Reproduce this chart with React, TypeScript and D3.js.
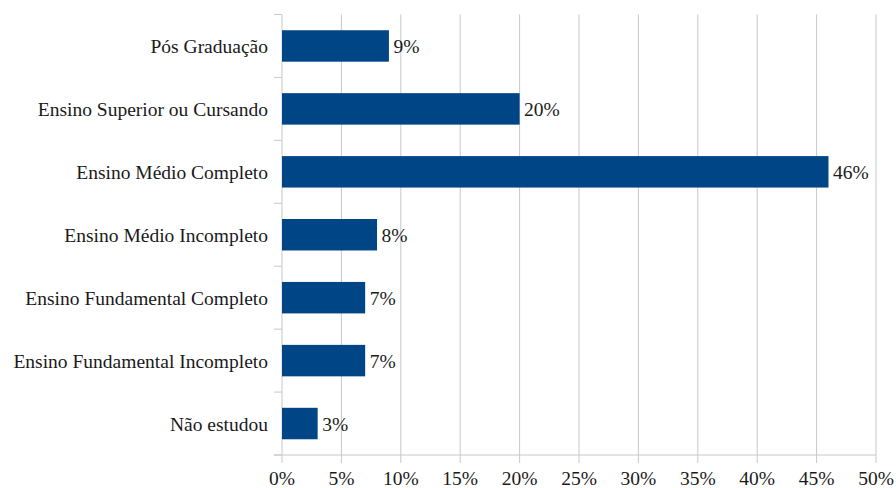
import React, { useEffect, useRef } from 'react';
import * as d3 from 'd3';

const categories = [
  'Pós Graduação',
  'Ensino Superior ou Cursando',
  'Ensino Médio Completo',
  'Ensino Médio Incompleto',
  'Ensino Fundamental Completo',
  'Ensino Fundamental Incompleto',
  'Não estudou',
];
const values = [9, 20, 46, 8, 7, 7, 3];
const xTicks = [0, 5, 10, 15, 20, 25, 30, 35, 40, 45, 50];

const App = () => {
  const svgRef = useRef<SVGSVGElement>(null);
  const width = 896;
  const height = 488;
  const left = 282;
  const right = 876;
  const top = 14.5;
  const bottom = 455;

  useEffect(() => {
    const svg = d3.select(svgRef.current);
    svg.selectAll('*').remove();

    const x = d3.scaleLinear().domain([0, 50]).range([left, right]);
    const y = d3.scaleBand().domain(categories).range([top, bottom]).paddingInner(0.5).paddingOuter(0.25);
    const font = 'Liberation Serif';
    const fontSize = 19.5;
    const gridColor = '#c8c8c8';

    // vertical gridlines + ticks below
    svg.append('g')
      .selectAll('line')
      .data(xTicks)
      .enter()
      .append('line')
      .attr('x1', d => x(d))
      .attr('x2', d => x(d))
      .attr('y1', top)
      .attr('y2', bottom + 8)
      .attr('stroke', gridColor)
      .attr('stroke-width', 1);

    // bottom axis line
    svg.append('line')
      .attr('x1', left - 8)
      .attr('x2', right)
      .attr('y1', bottom)
      .attr('y2', bottom)
      .attr('stroke', gridColor);

    // category boundary ticks on the left axis
    const step = (bottom - top) / categories.length;
    const boundaries = d3.range(categories.length + 1).map(i => top + i * step);
    svg.append('g')
      .selectAll('line')
      .data(boundaries)
      .enter()
      .append('line')
      .attr('x1', left - 8)
      .attr('x2', left)
      .attr('y1', d => d)
      .attr('y2', d => d)
      .attr('stroke', gridColor);

    // bars
    svg.append('g')
      .selectAll('rect')
      .data(values)
      .enter()
      .append('rect')
      .attr('x', x(0))
      .attr('y', (d, i) => y(categories[i]))
      .attr('width', d => x(d) - x(0))
      .attr('height', y.bandwidth())
      .attr('fill', '#004586');

    // value labels
    svg.append('g')
      .selectAll('text')
      .data(values)
      .enter()
      .append('text')
      .text(d => `${d}%`)
      .attr('x', d => x(d) + 4.5)
      .attr('y', (d, i) => y(categories[i]) + y.bandwidth() / 2)
      .attr('dy', '0.36em')
      .attr('font-family', font)
      .attr('font-size', fontSize)
      .attr('fill', '#1a1a1a');

    // category labels
    svg.append('g')
      .selectAll('text')
      .data(categories)
      .enter()
      .append('text')
      .text(d => d)
      .attr('x', left - 14)
      .attr('y', d => y(d) + y.bandwidth() / 2)
      .attr('dy', '0.36em')
      .attr('text-anchor', 'end')
      .attr('font-family', font)
      .attr('font-size', fontSize)
      .attr('fill', '#1a1a1a');

    // x tick labels
    svg.append('g')
      .selectAll('text')
      .data(xTicks)
      .enter()
      .append('text')
      .text(d => `${d}%`)
      .attr('x', d => x(d))
      .attr('y', bottom + 30)
      .attr('text-anchor', 'middle')
      .attr('font-family', font)
      .attr('font-size', fontSize)
      .attr('fill', '#1a1a1a');
  }, []);

  return (
    <svg
      ref={svgRef}
      width={width}
      height={height}
      style={{ position: 'absolute', left: 0, top: 0, background: '#fff' }}
    ></svg>
  );
};

export default App;
